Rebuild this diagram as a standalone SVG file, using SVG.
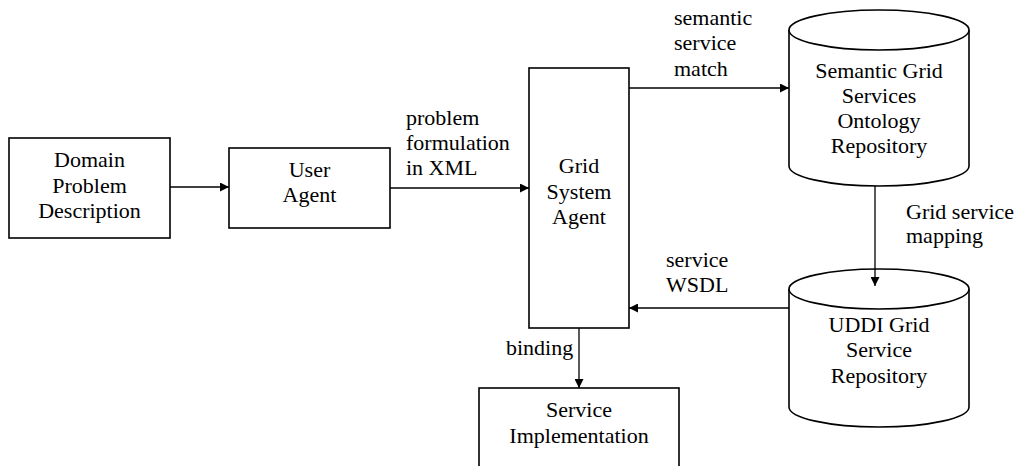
<svg xmlns="http://www.w3.org/2000/svg" width="1019" height="466" viewBox="0 0 1019 466" font-family="'Liberation Serif', 'DejaVu Serif', serif" font-size="22">
  <style>
    text { font-family: 'Liberation Serif', 'DejaVu Serif', serif; font-size: 22px; fill: #000; }
    .c { text-anchor: middle; }
    .shape { fill: #fff; stroke: #000; stroke-width: 1.6; }
    .link { fill: none; stroke: #000; stroke-width: 1.3; }
  </style>
  <defs>
    <marker id="arrow" viewBox="0 0 10 10" refX="10" refY="5" markerWidth="10" markerHeight="9" markerUnits="userSpaceOnUse" orient="auto">
      <path d="M0,0 L10,5 L0,10 Z" fill="#000"/>
    </marker>
  </defs>
  <rect width="1019" height="466" fill="#fff"/>

  <g id="domain">
    <rect class="shape" x="9" y="138" width="161" height="100"/>
    <text class="c" x="89.5" y="167">Domain</text>
    <text class="c" x="89.5" y="192.5">Problem</text>
    <text class="c" x="89.5" y="218">Description</text>
  </g>

  <g id="user-agent">
    <rect class="shape" x="229" y="148" width="161" height="80"/>
    <text class="c" x="309.5" y="177">User</text>
    <text class="c" x="309.5" y="202">Agent</text>
  </g>

  <g id="grid-system-agent">
    <rect class="shape" x="529" y="68" width="100" height="260"/>
    <text class="c" x="579" y="173">Grid</text>
    <text class="c" x="579" y="199">System</text>
    <text class="c" x="579" y="224">Agent</text>
  </g>

  <g id="ontology-repository">
    <path class="shape" d="M789,30 V166 A90,20 0 0 0 969,166 V30"/>
    <ellipse class="shape" cx="879" cy="30" rx="90" ry="20"/>
    <text class="c" x="879" y="78">Semantic Grid</text>
    <text class="c" x="879" y="103">Services</text>
    <text class="c" x="879" y="128">Ontology</text>
    <text class="c" x="879" y="153">Repository</text>
  </g>

  <g id="uddi-repository">
    <path class="shape" d="M789,289 V407 A90,20 0 0 0 969,407 V289"/>
    <ellipse class="shape" cx="879" cy="289" rx="90" ry="20"/>
    <text class="c" x="879" y="332">UDDI Grid</text>
    <text class="c" x="879" y="357">Service</text>
    <text class="c" x="879" y="383">Repository</text>
  </g>

  <g id="service-implementation">
    <rect class="shape" x="479" y="388" width="200" height="90"/>
    <text class="c" x="579" y="417">Service</text>
    <text class="c" x="579" y="443">Implementation</text>
  </g>

  <g id="connectors">
    <line class="link" x1="170" y1="187" x2="229" y2="187" marker-end="url(#arrow)"/>
    <line class="link" x1="390" y1="188" x2="529" y2="188" marker-end="url(#arrow)"/>
    <line class="link" x1="629" y1="88" x2="789" y2="88" marker-end="url(#arrow)"/>
    <line class="link" x1="875" y1="186" x2="875" y2="286" marker-end="url(#arrow)"/>
    <line class="link" x1="789" y1="308" x2="629" y2="308" marker-end="url(#arrow)"/>
    <line class="link" x1="579" y1="328" x2="579" y2="388" marker-end="url(#arrow)"/>
    <text x="406" y="125">problem</text>
    <text x="406" y="150">formulation</text>
    <text x="406" y="175">in XML</text>
    <text x="674" y="25">semantic</text>
    <text x="674" y="50">service</text>
    <text x="674" y="76">match</text>
    <text x="906" y="219">Grid service</text>
    <text x="906" y="243">mapping</text>
    <text x="666" y="267">service</text>
    <text x="666" y="292">WSDL</text>
    <text x="506" y="355">binding</text>
  </g>
</svg>
